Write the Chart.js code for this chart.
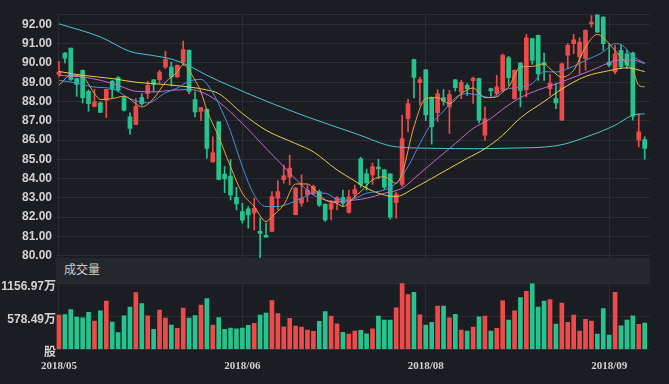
<!DOCTYPE html>
<html>
<head>
<meta charset="utf-8">
<script src="https://cdn.jsdelivr.net/npm/chart.js@4.4.0/dist/chart.umd.min.js"></script>
<style>
  body { margin: 0; width: 669px; height: 384px; background: #1b1d22; position: relative; overflow: hidden; }
  canvas { position: absolute; left: 0; }
  #price { top: 0; }
  #vol { top: 270px; }
  #band {
    position: absolute; left: 56px; top: 258px; width: 594px; height: 25px;
    background: #24272c; color: #cfcfcf; font: 12px 'Liberation Sans', 'Noto Sans CJK SC', sans-serif;
    line-height: 25px; padding-left: 8px; box-sizing: border-box;
  }
</style>
</head>
<body>
<canvas id="price" width="669" height="272"></canvas>
<canvas id="vol" width="669" height="114"></canvas>
<div id="band">成交量</div>
<script>
// ---- data (100 sessions) ----
const open = [
  89.41, 90.51, 90.77, 89.19, 89.62, 88.53, 87.75, 87.93, 88.07, 89.05,
  89.24, 88.20, 87.20, 86.81, 88.20, 88.41, 89.13, 89.13, 89.79, 89.79,
  89.27, 90.05, 90.65, 88.10, 87.49, 87.60, 84.87, 86.94, 84.24, 84.13,
  83.03, 82.29, 82.43, 82.20, 81.26, 81.05, 81.26, 82.98, 83.95, 84.07,
  82.13, 82.72, 83.18, 83.23, 83.33, 82.66, 82.42, 82.75, 83.02, 82.25,
  83.20, 85.03, 84.25, 84.19, 84.60, 84.45, 84.24, 82.75, 83.70, 87.12,
  90.17, 88.98, 89.65, 88.22, 87.42, 88.20, 87.72, 89.13, 88.50, 88.84,
  89.08, 89.19, 86.25, 88.67, 88.41, 88.60, 90.27, 88.15, 90.00, 88.62,
  91.26, 91.43, 90.01, 88.67, 88.15, 87.03, 90.40, 91.00, 90.31, 90.22,
  92.03, 92.51, 92.38, 90.05, 89.53, 90.65, 90.48, 90.51, 86.00, 86.03
];
const high = [
  90.07, 90.55, 90.77, 89.22, 89.65, 88.60, 88.63, 87.98, 88.63, 89.10,
  89.30, 88.25, 87.41, 88.15, 88.41, 89.05, 89.15, 89.62, 90.60, 90.05,
  89.90, 91.13, 90.68, 88.50, 87.69, 87.62, 86.17, 86.96, 84.62, 84.99,
  83.55, 82.72, 82.55, 82.98, 81.95, 81.69, 83.32, 83.90, 84.70, 85.22,
  83.55, 84.19, 83.67, 83.67, 83.41, 82.69, 82.85, 83.07, 83.41, 83.41,
  83.67, 85.10, 84.50, 84.80, 85.00, 84.48, 84.27, 83.30, 87.29, 88.12,
  90.20, 89.27, 89.67, 88.24, 88.60, 88.62, 88.58, 89.15, 89.10, 88.93,
  89.27, 89.22, 87.72, 88.70, 89.36, 90.48, 90.34, 89.65, 90.02, 91.48,
  91.28, 91.45, 90.51, 89.41, 88.93, 90.00, 91.00, 91.48, 91.31, 91.72,
  92.46, 92.55, 92.40, 91.00, 90.91, 90.91, 90.65, 90.57, 87.38, 86.17
];
const low = [
  89.27, 90.00, 89.10, 88.27, 87.93, 87.50, 87.72, 87.44, 87.17, 88.20,
  88.50, 87.50, 86.31, 86.80, 87.81, 88.15, 88.50, 88.96, 89.70, 88.79,
  89.25, 89.88, 88.41, 87.20, 87.00, 85.05, 84.85, 83.93, 83.27, 82.90,
  82.38, 81.69, 81.43, 81.34, 79.90, 80.96, 81.26, 82.38, 83.76, 83.67,
  82.12, 82.55, 82.80, 83.15, 82.55, 81.78, 81.86, 82.38, 82.55, 82.20,
  83.00, 83.55, 83.40, 83.70, 84.00, 83.45, 81.90, 81.95, 83.60, 86.42,
  88.18, 87.81, 87.00, 85.78, 86.95, 87.81, 86.34, 88.55, 88.15, 88.32,
  87.90, 86.89, 86.00, 88.27, 88.32, 88.50, 88.84, 88.12, 87.72, 88.24,
  89.93, 89.10, 89.10, 88.32, 87.63, 87.00, 89.70, 90.48, 89.44, 89.62,
  91.86, 91.60, 90.65, 89.79, 89.44, 89.70, 89.70, 87.03, 85.65, 85.01
];
const close = [
  89.53, 90.25, 89.15, 88.89, 88.20, 87.89, 87.98, 87.44, 88.63, 88.63,
  88.58, 87.55, 86.60, 87.75, 87.89, 88.84, 88.89, 89.53, 90.17, 89.27,
  89.88, 90.69, 88.53, 87.46, 87.69, 85.57, 85.34, 83.96, 83.98, 83.15,
  82.69, 81.84, 82.12, 82.46, 81.15, 80.96, 83.07, 83.33, 84.15, 84.55,
  83.50, 82.98, 83.41, 83.60, 82.62, 81.86, 82.70, 83.02, 82.72, 83.05,
  83.43, 83.70, 83.78, 84.63, 84.50, 83.55, 82.00, 83.20, 86.08, 87.89,
  89.25, 89.14, 87.30, 86.69, 88.40, 88.03, 88.36, 88.72, 89.00, 88.67,
  89.20, 87.03, 87.12, 88.55, 88.76, 90.40, 89.24, 89.62, 88.58, 91.31,
  90.13, 89.44, 89.88, 88.96, 87.93, 89.96, 90.91, 91.20, 91.08, 91.69,
  92.12, 91.60, 91.00, 89.88, 90.48, 89.79, 89.88, 87.24, 86.43, 85.57
];
// volume, in 万股
const volume = [
  599, 610, 698, 564, 553, 646, 495, 675, 844, 477,
  291, 588, 739, 995, 803, 588, 349, 686, 547, 425,
  366, 721, 547, 593, 774, 890, 425, 558, 349, 372,
  361, 372, 419, 454, 599, 634, 855, 628, 396, 541,
  407, 390, 337, 314, 489, 663, 582, 448, 297, 268,
  320, 332, 273, 361, 582, 512, 512, 727, 1156.97, 960,
  1000, 605, 425, 471, 756, 756, 553, 611, 337, 320,
  390, 570, 582, 320, 366, 849, 512, 675, 907, 1018,
  1152, 739, 844, 873, 442, 809, 471, 599, 320, 524,
  494, 268, 716, 250, 1000, 413, 512, 588, 436, 460
];

// moving-average lines, [session, price] read at sample points
const ma5 = [[0,88.84],[2,89.36],[4,89.27],[6,88.41],[7,88.10],[9,88.15],[11,88.27],[13,87.89],[14,87.72],[16,88.15],[18,89.00],[20,89.53],[21,89.91],[23,89.10],[24,88.50],[25,87.55],[27,86.17],[29,84.62],[31,83.24],[33,82.55],[35,81.77],[36,82.03],[38,82.64],[40,83.72],[42,83.72],[43,83.50],[45,82.89],[47,82.72],[48,82.55],[50,83.07],[51,83.32],[53,83.93],[55,84.10],[57,83.76],[58,84.27],[60,86.69],[62,88.15],[64,88.20],[66,87.89],[68,88.41],[70,88.70],[72,88.20],[74,88.24],[75,88.50],[76,88.75],[78,89.79],[80,89.82],[82,89.96],[83,89.70],[85,89.27],[87,89.62],[89,90.82],[91,91.48],[93,91.00],[94,90.65],[96,89.96],[97,89.62],[98,88.84],[99,88.76]];
const ma10 = [[0,89.10],[3,88.96],[6,88.75],[9,88.67],[12,88.15],[15,87.93],[18,88.45],[20,88.70],[22,89.05],[24,89.15],[26,88.45],[28,87.20],[29,86.45],[31,84.62],[33,83.15],[35,82.55],[37,82.55],[39,82.72],[41,82.98],[43,83.24],[45,83.24],[47,82.93],[49,82.89],[52,83.24],[55,83.41],[57,83.76],[59,84.62],[61,85.82],[63,86.86],[65,87.50],[67,88.20],[69,88.41],[71,88.32],[73,88.20],[75,88.58],[76,88.67],[78,88.75],[80,88.93],[82,89.55],[84,89.53],[86,89.70],[89,90.13],[92,90.57],[94,91.00],[95,90.96],[97,90.35],[99,90.00]];
const ma20 = [[0,89.36],[4,89.27],[7,89.10],[10,88.84],[13,88.53],[16,88.50],[19,88.58],[22,88.62],[24,88.50],[27,87.98],[31,86.86],[35,85.57],[38,84.62],[41,83.67],[43,83.15],[45,82.89],[47,82.81],[50,82.89],[52,82.98],[55,83.24],[58,83.50],[61,84.27],[64,85.05],[67,85.82],[70,86.60],[73,87.12],[75,87.60],[78,88.20],[81,88.60],[85,89.02],[90,89.62],[95,90.15],[97,90.15],[99,89.96]];
const ma30 = [[0,89.56],[4,89.36],[9,89.19],[13,89.00],[18,88.88],[22,88.75],[25,88.60],[27,88.41],[31,87.38],[35,86.51],[40,85.82],[43,85.39],[47,84.45],[50,83.88],[52,83.50],[55,83.15],[57,83.07],[60,83.50],[63,84.01],[66,84.53],[69,85.05],[72,85.55],[75,86.25],[78,87.15],[82,88.00],[85,88.65],[89,89.30],[93,89.60],[96,89.75],[99,89.55]];
const ma60 = [[0,92.03],[7,91.35],[12,90.60],[16,90.38],[19,90.20],[22,89.85],[25,89.36],[29,88.80],[36,87.90],[42,87.20],[50,86.35],[57,85.65],[64,85.57],[70,85.55],[76,85.58],[84,85.70],[90,86.26],[94,86.77],[97,87.29],[99,87.36]];

// axis ticks
const xTickIdx = [0, 31, 62, 93];
const xTickText = ['2018/05', '2018/06', '2018/08', '2018/09'];
const priceTicks = [80, 81, 82, 83, 84, 85, 86, 87, 88, 89, 90, 91, 92];
const volTicks = [0, 578.49, 1156.97];
const volTickText = ['股', '578.49万', '1156.97万'];

const RED = '#ef4a4a', GREEN = '#25c48e';
const GRID = '#2a2d33';
const TICK = '#d2d2d2';
const FONT = "'Liberation Sans', 'Noto Sans CJK SC', sans-serif";

const upColor = open.map((o, i) => close[i] >= o ? RED : GREEN);
const idx = open.map((_, i) => i);

function maSet(points, color) {
  return {
    type: 'line',
    data: points.map(p => ({ x: p[0], y: p[1] })),
    borderColor: color,
    borderWidth: 1,
    pointRadius: 0,
    cubicInterpolationMode: 'monotone',
    order: 0
  };
}

const xScale = (extra) => Object.assign({
  type: 'linear',
  min: -0.5,
  max: 99.9,
  offset: false,
  grid: { color: GRID, offset: false, drawTicks: false },
  border: { display: false },
  afterBuildTicks: s => { s.ticks = xTickIdx.map(v => ({ value: v })); }
}, extra);

/* ---------------- PRICE (candles + MA) ---------------- */
new Chart(document.getElementById('price'), {
  type: 'bar',
  data: {
    datasets: [
      maSet(ma5, '#eea43c'),
      maSet(ma10, '#4c8fdb'),
      maSet(ma20, '#c56ad2'),
      maSet(ma30, '#e6cf45'),
      maSet(ma60, '#4cc3d3'),
      {
        data: idx.map(i => ({ x: i, y: [open[i], close[i]] })),
        backgroundColor: upColor,
        barThickness: 4,
        minBarLength: 1,
        grouped: false,
        order: 1
      },
      {
        data: idx.map(i => ({ x: i, y: [low[i], high[i]] })),
        backgroundColor: upColor,
        barThickness: 1,
        grouped: false,
        order: 2
      }
    ]
  },
  options: {
    responsive: false,
    animation: false,
    layout: { padding: { top: 14.4, right: 19, bottom: 14, left: 0 } },
    plugins: { legend: { display: false }, tooltip: { enabled: false } },
    scales: {
      x: xScale({ ticks: { display: false }, afterFit: s => { s.height = 0; } }),
      y: {
        min: 79.88,
        max: 92.52,
        grid: { color: GRID, drawTicks: false },
        border: { display: false },
        afterFit: s => { s.width = 56; },
        afterBuildTicks: s => { s.ticks = priceTicks.map(v => ({ value: v })).concat({ value: 92.52 }); },
        ticks: {
          color: TICK,
          padding: 4,
          font: { family: FONT, size: 12, weight: 'bold' },
          callback: v => v > 92.1 ? '' : v.toFixed(2)
        }
      }
    }
  }
});

/* ---------------- VOLUME ---------------- */
new Chart(document.getElementById('vol'), {
  type: 'bar',
  data: {
    datasets: [{
      data: idx.map(i => ({ x: i, y: volume[i] })),
      backgroundColor: upColor,
      barThickness: 4,
      grouped: false
    }]
  },
  options: {
    responsive: false,
    animation: false,
    layout: { padding: { top: 13.3, right: 19, bottom: 0, left: 0 } },
    plugins: { legend: { display: false }, tooltip: { enabled: false } },
    scales: {
      x: xScale({
        afterFit: s => { s.height = 34.7; },
        ticks: {
          color: TICK,
          padding: 10,
          maxRotation: 0,
          font: { family: "'Liberation Serif', serif", size: 11, weight: 'bold' },
          callback: v => xTickText[xTickIdx.indexOf(v)]
        }
      }),
      y: {
        min: 0,
        max: 1156.97,
        grid: { color: GRID, drawTicks: false },
        border: { display: false },
        afterFit: s => { s.width = 56; },
        afterBuildTicks: s => { s.ticks = volTicks.map(v => ({ value: v })); },
        ticks: {
          color: TICK,
          padding: 0,
          labelOffset: 3,
          font: { family: FONT, size: 12, weight: 'bold' },
          callback: (v, i) => volTickText[i]
        }
      }
    }
  }
});
</script>
</body>
</html>
